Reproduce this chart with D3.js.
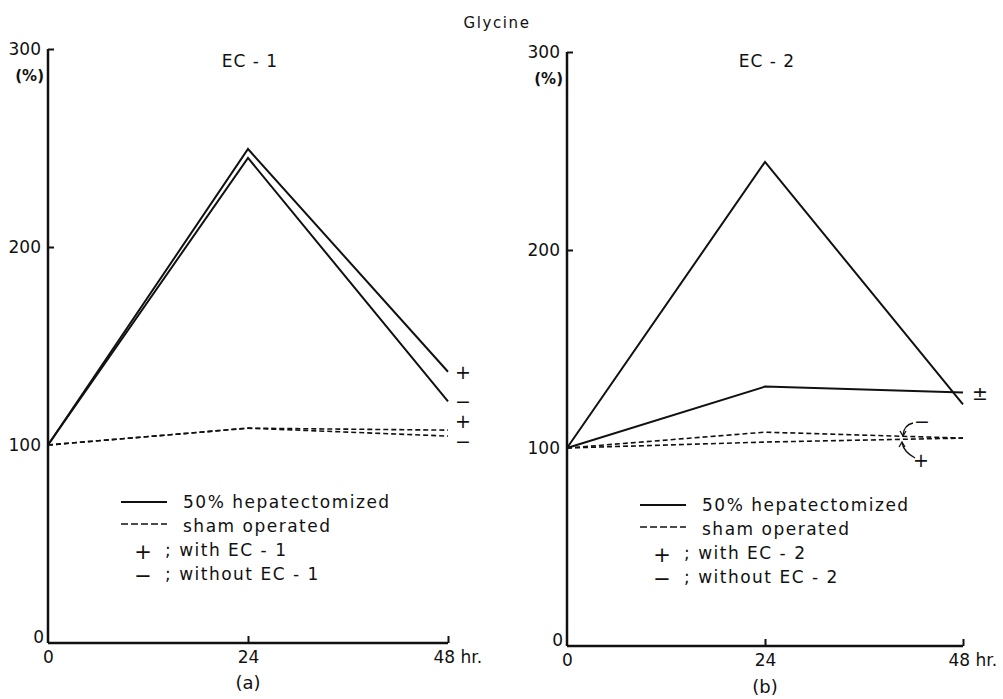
<!DOCTYPE html>
<html>
<head>
<meta charset="utf-8">
<script src="https://cdn.jsdelivr.net/npm/d3@7"></script>
<style>
  body { margin: 0; background: #fff; }
  text { font-family: "DejaVu Sans", sans-serif; fill: #111; }
</style>
</head>
<body>
<script>
 /* Glycine, EC-1 / EC-2 panels */

 var W = 1003, H = 699;

 // data (% of initial, at 0, 24, 48 hr)
 var hours = [0, 24, 48];
 var xTicks = [0, 24, 48];
 var yTicks = [0, 100, 200, 300];

 var ec1HepWith = [100, 249.5, 137];
 var ec1HepWithout = [100, 245, 122];
 var ec1ShamWith = [100, 108.5, 107.5];
 var ec1ShamWithout = [100, 108.5, 104.5];

 var ec2HepWith = [100, 131, 128];
 var ec2HepWithout = [100, 244.5, 122];
 var ec2ShamWith = [100, 103, 105];
 var ec2ShamWithout = [100, 108, 105];

 var legendLabels = ["50% hepatectomized", "sham operated"];

 var svg = d3.select("body").append("svg")
   .attr("width", W)
   .attr("height", H);

 svg.append("text")
   .attr("x", 497).attr("y", 28)
   .attr("text-anchor", "middle")
   .style("font-size", "15px")
   .style("letter-spacing", "1.6px")
   .text("Glycine");

 /**
  * draws one panel
  */
 function drawPanel(p) {
   var x = d3.scaleLinear().domain([0, 48]).range([p.x0, p.x1]);
   var y = d3.scaleLinear().domain([0, 300]).range([p.y0, p.y300]);
   var g = svg.append("g");

   // axes
   var yAxis = d3.axisLeft(y).tickValues(yTicks).tickSize(-6).tickPadding(7)
     .tickFormat(function(d){ return d; });
   var ya = g.append("g").attr("transform", "translate(" + p.x0 + ",0)").call(yAxis);
   var xAxis = d3.axisBottom(x).tickValues(xTicks).tickSize(-7).tickPadding(8)
     .tickFormat(function(d){ return d == 48 ? "48 hr." : d; });
   var xa = g.append("g").attr("transform", "translate(0," + p.y0 + ")").call(xAxis);

   [ya, xa].forEach(function(a){
     a.select(".domain").attr("stroke", "#111").attr("stroke-width", 2.5);
     a.selectAll(".tick line").attr("stroke", "#111").attr("stroke-width", 2);
     a.selectAll(".tick text").style("font-size", "17px").style("font-family", "DejaVu Sans").attr("fill", "#111");
   });
   ya.selectAll(".tick").filter(function(d){ return d == 0 || d == 100; }).select("line").remove();
   ya.selectAll(".tick").filter(function(d){ return d == 0; }).select("text").attr("dy", "-0.05em").attr("x", -4);
   xa.selectAll(".tick").filter(function(d){ return d == 0; }).select("line").remove();
   xa.selectAll(".tick").filter(function(d){ return d == 48; }).select("text")
     .attr("text-anchor", "start").attr("x", -15);
   // axis lines without the outer ticks
   ya.select(".domain").attr("d", "M0," + (y(300)) + "V" + p.y0);
   xa.select(".domain").attr("d", "M" + p.x0 + ",0H" + p.x1);

   g.append("text").attr("x", p.x0 - 4).attr("y", y(300) + 32)
     .attr("text-anchor", "end").style("font-size", "15px").style("font-weight", "bold").text("(%)");

   g.append("text").attr("x", (p.x0 + p.x1) / 2 + 2).attr("y", 67)
     .attr("text-anchor", "middle").style("font-size", "17px")
     .style("letter-spacing", "1px").text(p.title);

   g.append("text").attr("x", x(24)).attr("y", p.capY)
     .attr("text-anchor", "middle").style("font-size", "18px").text(p.cap);

   // lines
   var line = d3.line().x(function(d, i){ return x(hours[i]); }).y(function(d){ return y(d); });
   p.series.forEach(function(s){
     g.append("path")
       .datum(s.values)
       .attr("d", line)
       .attr("fill", "none")
       .attr("stroke", "#111")
       .attr("stroke-width", s.dash ? 1.6 : 2)
       .attr("stroke-dasharray", s.dash ? "5,3" : null);
   });

   // end marks
   p.marks.forEach(function(m){
     g.append("text").attr("x", m[0]).attr("y", m[1])
       .attr("text-anchor", "middle").style("font-size", "19px").text(m[2]);
   });

   // legend
   var lx = p.legX, ly = p.legY;
   g.append("line").attr("x1", lx).attr("x2", lx + 46).attr("y1", ly).attr("y2", ly)
     .attr("stroke", "#111").attr("stroke-width", 2);
   g.append("line").attr("x1", lx).attr("x2", lx + 46).attr("y1", ly + 22).attr("y2", ly + 22)
     .attr("stroke", "#111").attr("stroke-width", 1.6).attr("stroke-dasharray", "7,3");
   var labels = legendLabels.concat(["; with " + p.tag, "; without " + p.tag]);
   labels.forEach(function(t, i){
     g.append("text").attr("x", i < 2 ? lx + 62 : lx + 44).attr("y", ly + 6 + i * 24)
       .style("font-size", "17px").style("letter-spacing", "1.5px").text(t);
   });
   g.append("text").attr("x", lx + 22).attr("y", ly + 57).attr("text-anchor", "middle")
     .style("font-size", "21px").text("+");
   g.append("text").attr("x", lx + 22).attr("y", ly + 81).attr("text-anchor", "middle")
     .style("font-size", "21px").text("\u2212");

   return {x: x, y: y, g: g};
 }

 drawPanel({
   x0: 48, x1: 448, y0: 643, y300: 49,
   title: "EC - 1", tag: "EC - 1", cap: "(a)", capY: 689,
   legX: 121, legY: 502,
   series: [
     {values: ec1HepWith}, {values: ec1HepWithout},
     {values: ec1ShamWith, dash: true}, {values: ec1ShamWithout, dash: true}
   ],
   marks: [[463, 379, "+"], [463, 408, "\u2212"], [463, 428, "+"], [463, 448, "\u2212"]]
 });

 var right = drawPanel({
   x0: 567, x1: 963, y0: 646, y300: 52,
   title: "EC - 2", tag: "EC - 2", cap: "(b)", capY: 693,
   legX: 640, legY: 505,
   series: [
     {values: ec2HepWith}, {values: ec2HepWithout},
     {values: ec2ShamWith, dash: true}, {values: ec2ShamWithout, dash: true}
   ],
   marks: [[980, 400, "\u00b1"], [922, 428, "\u2212"], [921, 467, "+"]]
 });

 // curved arrows pointing at the sham lines in panel (b)
 var ag = right.g;
 ag.append("path").attr("d", "M913,423 Q904,425 903,435")
   .attr("fill", "none").attr("stroke", "#111").attr("stroke-width", 1.3);
 ag.append("path").attr("d", "M900,431 L903,436 L906,431")
   .attr("fill", "none").attr("stroke", "#111").attr("stroke-width", 1.3);
 ag.append("path").attr("d", "M915,458 Q904,452 902,443")
   .attr("fill", "none").attr("stroke", "#111").attr("stroke-width", 1.3);
 ag.append("path").attr("d", "M899,447 L902,442 L905,447")
   .attr("fill", "none").attr("stroke", "#111").attr("stroke-width", 1.3);
</script>
</body>
</html>
